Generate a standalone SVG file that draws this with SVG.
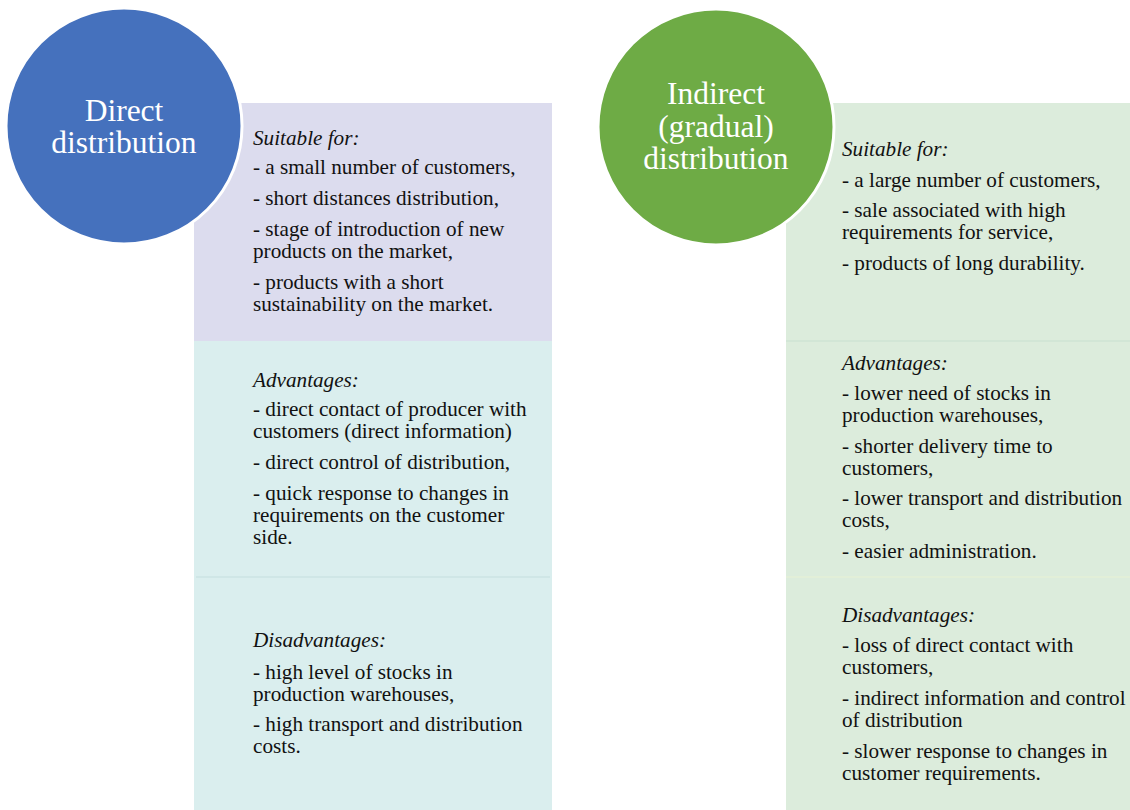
<svg xmlns="http://www.w3.org/2000/svg" width="1130" height="810" viewBox="0 0 1130 810">
<style>
.t{font-family:"Liberation Serif","Times New Roman",serif;font-size:21.2px;fill:#111}
.h{font-style:italic}
.c{font-family:"Liberation Serif","Times New Roman",serif;font-size:31.5px;fill:#fff;text-anchor:middle}
.sep{stroke:#cfe6e6;stroke-width:2}
</style>
<rect width="1130" height="810" fill="#fff"/>
<g id="direct-panel">
<rect x="194" y="103" width="358" height="238" fill="#dcdcee"/>
<rect x="194" y="341" width="358" height="236" fill="#daeeee"/>
<rect x="194" y="577" width="358" height="233" fill="#daeeee"/>
<line x1="196" y1="577" x2="550" y2="577" class="sep"/>
</g>
<g id="indirect-panel">
<rect x="786" y="103" width="344" height="238" fill="#dcecdc"/>
<rect x="786" y="341" width="344" height="236" fill="#dcecdc"/>
<rect x="786" y="577" width="344" height="233" fill="#dcecdc"/>
<line x1="786" y1="341" x2="1130" y2="341" stroke="#d2e6d6" stroke-width="2"/>
<line x1="786" y1="577" x2="1130" y2="577" stroke="#e2efd8" stroke-width="2"/>
</g>
<g id="direct-circle">
<circle cx="124" cy="126" r="118" fill="#4571bd" stroke="#fff" stroke-width="3"/>
<text class="c" x="124" y="121">Direct</text>
<text class="c" x="124" y="153">distribution</text>
</g>
<g id="indirect-circle">
<circle cx="716" cy="127" r="118" fill="#6eab45" stroke="#fff" stroke-width="3"/>
<text class="c" x="716" y="104">Indirect</text>
<text class="c" x="716" y="137">(gradual)</text>
<text class="c" x="716" y="169">distribution</text>
</g>
<g id="direct-suitable">
<text class="t h" x="253" y="145">Suitable for:</text>
<text class="t" x="253" y="174">- a small number of customers,</text>
<text class="t" x="253" y="205">- short distances distribution,</text>
<text class="t" x="253" y="236">- stage of introduction of new</text>
<text class="t" x="253" y="258">products on the market,</text>
<text class="t" x="253" y="289">- products with a short</text>
<text class="t" x="253" y="311">sustainability on the market.</text>
</g>
<g id="direct-advantages">
<text class="t h" x="253" y="387">Advantages:</text>
<text class="t" x="253" y="416">- direct contact of producer with</text>
<text class="t" x="253" y="438">customers (direct information)</text>
<text class="t" x="253" y="469">- direct control of distribution,</text>
<text class="t" x="253" y="500">- quick response to changes in</text>
<text class="t" x="253" y="522">requirements on the customer</text>
<text class="t" x="253" y="544">side.</text>
</g>
<g id="direct-disadvantages">
<text class="t h" x="253" y="647">Disadvantages:</text>
<text class="t" x="253" y="679">- high level of stocks in</text>
<text class="t" x="253" y="701">production warehouses,</text>
<text class="t" x="253" y="731">- high transport and distribution</text>
<text class="t" x="253" y="753">costs.</text>
</g>
<g id="indirect-suitable">
<text class="t h" x="842" y="156">Suitable for:</text>
<text class="t" x="842" y="187">- a large number of customers,</text>
<text class="t" x="842" y="217">- sale associated with high</text>
<text class="t" x="842" y="239">requirements for service,</text>
<text class="t" x="842" y="270">- products of long durability.</text>
</g>
<g id="indirect-advantages">
<text class="t h" x="842" y="370">Advantages:</text>
<text class="t" x="842" y="400">- lower need of  stocks in</text>
<text class="t" x="842" y="422">production warehouses,</text>
<text class="t" x="842" y="453">- shorter delivery time to</text>
<text class="t" x="842" y="475">customers,</text>
<text class="t" x="842" y="505">- lower transport and distribution</text>
<text class="t" x="842" y="527">costs,</text>
<text class="t" x="842" y="558">- easier administration.</text>
</g>
<g id="indirect-disadvantages">
<text class="t h" x="842" y="622">Disadvantages:</text>
<text class="t" x="842" y="652">- loss of direct contact with</text>
<text class="t" x="842" y="674">customers,</text>
<text class="t" x="842" y="705">- indirect information and control</text>
<text class="t" x="842" y="727">of distribution</text>
<text class="t" x="842" y="758">- slower response to changes in</text>
<text class="t" x="842" y="780">customer requirements.</text>
</g>
<g id="connectors"></g>
</svg>
